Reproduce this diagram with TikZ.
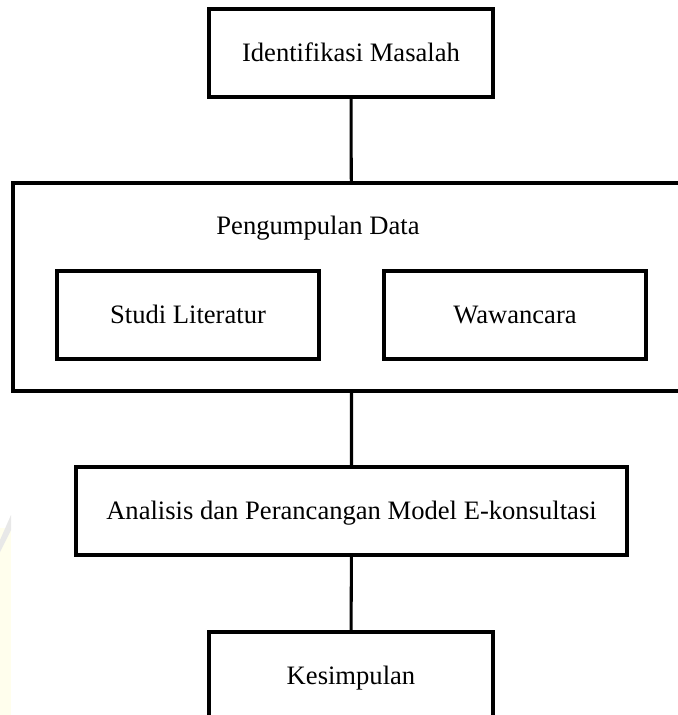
\documentclass[tikz,border=0pt]{standalone}
\usepackage{fontspec}
\setmainfont{Liberation Serif}
\usepackage{tikz}
\usetikzlibrary{positioning}

\tikzset{
    label/.style={inner sep=0pt, text height=15pt, text depth=0pt,
        font=\fontsize{22.7pt}{27pt}\selectfont},
    stage/.style={label, draw, line width=2.6pt, minimum height=2.64cm},
    wide/.style={minimum width=8.52cm},
    narrow/.style={minimum width=7.86cm}
}

\begin{document}
\begin{tikzpicture}[x=0.03cm, y=-0.03cm]
                                \clip (0, 0) rectangle (678, 715);
                                \fill[white] (0, 0) rectangle (678, 715);
                                % faint watermark at the lower left
                                \fill[yellow!7] (0, 528) rectangle (11, 715);
                                \fill[gray!18] (0, 540) -- (11, 515) -- (11, 530) -- (0, 552) -- cycle;
                                \node[stage, wide] (ident) at (351, 53) {Identifikasi Masalah};
                                \node[draw, line width=2.6pt, minimum width=20.31cm, minimum height=6.24cm] (kumpul) at (351.5, 287) {};
                                \node[label] (kumpulT) at (318, 226) {Pengumpulan Data};
                                \node[stage, narrow] (studi) at (188, 315) {Studi Literatur};
                                \node[stage, narrow] (wawan) at (515, 315) {Wawancara};
                                \node[stage, minimum width=16.53cm] (analisis) at (351.5, 511) {Analisis dan Perancangan Model E-konsultasi};
                                \node[stage, wide] (simpul) at (351, 676) {Kesimpulan};
                                \draw[line width=2.6pt]
                                (ident) -- (kumpul)
                                (kumpul) -- (analisis)
                                (analisis) -- (simpul);
                            \end{tikzpicture}
\end{document}
